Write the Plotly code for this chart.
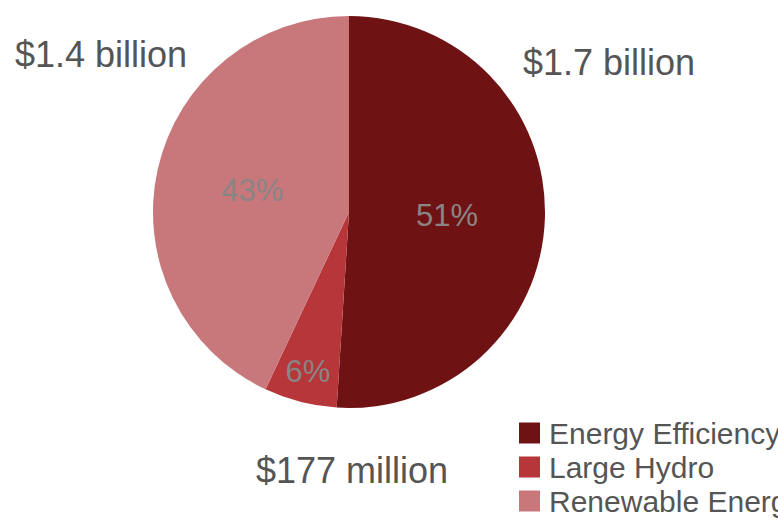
import plotly.graph_objects as go

categories = ["Energy Efficiency", "Large Hydro", "Renewable Energy"]
shares = [51, 6, 43]
amount_labels = ["$1.7 billion", "$177 million", "$1.4 billion"]
colors = ["#6f1214", "#b6363a", "#c8777b"]

W, H = 778, 520
cx, cy, r = 349, 212, 196

fig = go.Figure()
fig.add_trace(go.Pie(
    labels=categories,
    values=shares,
    sort=False,
    direction="clockwise",
    rotation=0,
    marker=dict(colors=colors, line=dict(width=0)),
    texttemplate="%{value}%",
    textposition="inside",
    insidetextorientation="horizontal",
    textfont=dict(family="Liberation Sans, Arial", size=31, color="#8a8585"),
    domain=dict(x=[(cx - r) / W, (cx + r) / W], y=[1 - (cy + r) / H, 1 - (cy - r) / H]),
    showlegend=False,
    hoverinfo="label+percent",
))

label_pos = [(609, 62), (352, 470), (101, 55)]
for txt, (x, y) in zip(amount_labels, label_pos):
    fig.add_annotation(x=x / W, y=1 - y / H, xref="paper", yref="paper", text=txt,
                       showarrow=False, xanchor="center", yanchor="middle",
                       font=dict(family="Liberation Sans, Arial", size=36, color="#555555"))

# legend (drawn manually so the swatches are larger and the text can run off the edge)
leg_x, leg_y0, leg_dy, sw = 519, 433, 34, 21
for i, (name, col) in enumerate(zip(categories, colors)):
    yc = leg_y0 + i * leg_dy
    fig.add_shape(type="rect", xref="paper", yref="paper",
                  x0=leg_x / W, x1=(leg_x + sw) / W,
                  y0=1 - (yc + sw / 2) / H, y1=1 - (yc - sw / 2) / H,
                  fillcolor=col, line=dict(width=0))
    fig.add_annotation(x=(leg_x + sw + 7) / W, y=1 - yc / H, xref="paper", yref="paper",
                       text=name, showarrow=False, xanchor="left", yanchor="middle",
                       font=dict(family="Liberation Sans, Arial", size=30, color="#555555"))

fig.update_layout(
    width=W, height=H,
    margin=dict(l=0, r=0, t=0, b=0),
    paper_bgcolor="white",
    plot_bgcolor="white",
    showlegend=False,
)

fig.write_html("out.html")
